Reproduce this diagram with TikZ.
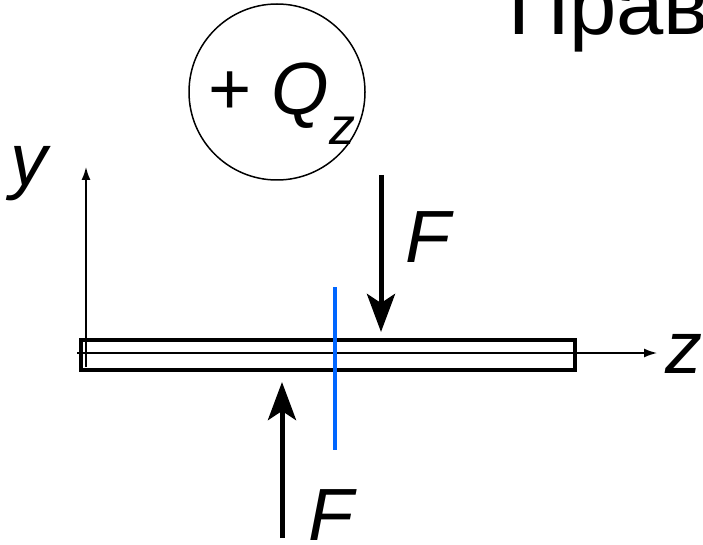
\documentclass[tikz,border=0pt]{standalone}
\usepackage{fontspec}
\setmainfont{Liberation Sans}
\usepackage{xcolor}
\usetikzlibrary{arrows.meta, positioning}
\definecolor{cutblue}{RGB}{0,102,255}

\begin{document}
\begin{tikzpicture}[
  x=1pt, y=-1pt,
  big/.style={font=\fontsize{74}{80}\selectfont, inner sep=0pt},
  force/.style={-{Stealth[length=38pt, width=28pt, inset=9pt]}, line width=5pt},
  axis/.style={-{Latex[length=13pt, width=9pt]}, line width=1.5pt},
  cut/.style={cutblue, line width=4pt}
]
\useasboundingbox (0,0) rectangle (703,545);

\node[inner sep=0pt, font=\fontsize{85}{90}\selectfont, anchor=base west] (title) at (508,35) {Прав};

% sign convention
\node[circle, draw, line width=1.5pt, minimum size=176pt, inner sep=0pt] (sign) at (277,92) {};
\node[big, anchor=base west] (qz) at (208,115)
  {+ \textit{Q}\raisebox{-30pt}{\fontsize{52}{52}\selectfont\textit{z}}};

% axes
\coordinate (ybot) at (86,367);
\coordinate (ytip) at (86,167);
\coordinate (zbot) at (77,353);
\coordinate (ztip) at (657,353);
\draw[axis] (ybot) -- (ytip);
\draw[axis] (zbot) -- (ztip);
\node[big, anchor=base] (ylab) at (31,186) {\textit{y}};
\node[big, anchor=base] (zlab) at (684,373) {\textit{z}};

% beam
\node[draw, line width=4pt, minimum width=494pt, minimum height=29.5pt, inner sep=0pt] (beam) at (327.5,355) {};

% section
\coordinate (cuttop) at (335,287);
\coordinate (cutbot) at (335,450);
\draw[cut] (cuttop) -- (cutbot);

% forces
\coordinate (f1start) at (381,175);
\coordinate (f1end) at (381,332);
\coordinate (f2start) at (282,538);
\coordinate (f2end) at (282,382);
\draw[force] (f1start) -- (f1end);
\draw[force] (f2start) -- (f2end);
\node[big, anchor=base] (f1lab) at (430,262) {\textit{F}};
\node[big, anchor=base] (f2lab) at (333,540) {\textit{F}};
\end{tikzpicture}
\end{document}
